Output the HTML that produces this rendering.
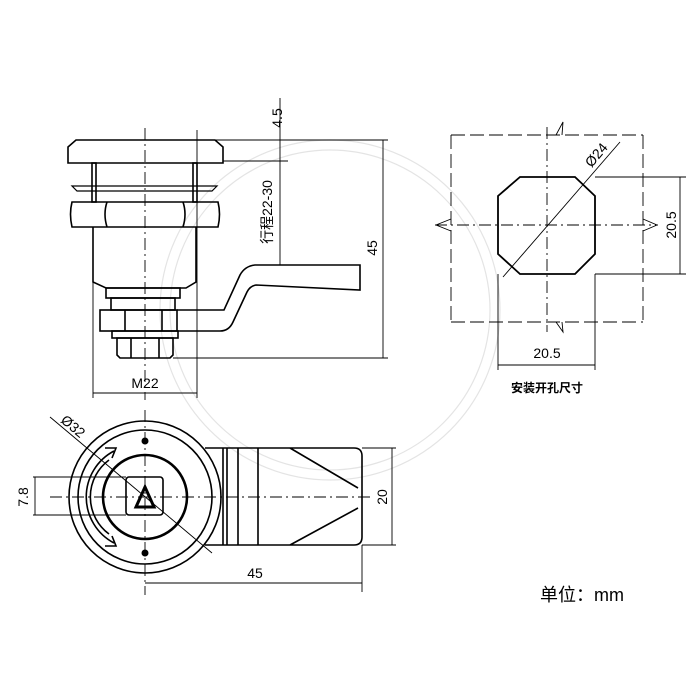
<!DOCTYPE html>
<html><head><meta charset="utf-8"><style>html,body{margin:0;padding:0;background:#fff}svg{display:block}</style></head><body>
<svg width="700" height="700" viewBox="0 0 700 700" xmlns="http://www.w3.org/2000/svg" font-family="Liberation Sans, Noto Sans CJK SC, sans-serif">
<g fill="none" stroke="#e4e4e4" stroke-width="1.2">
<circle cx="330" cy="310" r="170"/><circle cx="330" cy="310" r="160"/>
</g>
<g fill="none" stroke="#000" stroke-width="1.6">
<path d="M76 140 H215 L223 147 V163 H68 V147 Z"/>
<rect x="92" y="163" width="4" height="39"/><rect x="193" y="163" width="4" height="39"/>
<path d="M72 186 H217 L212 191 H77 Z" stroke-width="1.2"/>
<path d="M72 202 H218 Q221 214 218 227 H72 Q69 214 72 202 Z"/>
<path d="M107 202 Q103 214 107 227 M183 202 Q187 214 183 227"/>
<path d="M93 227 V282 L106 288 H186 L196 282 V227"/>
<rect x="106" y="288" width="74" height="10"/>
<rect x="111" y="298" width="64" height="12"/>
<rect x="100" y="310" width="77" height="21"/>
<path d="M125 310 V331 M162 310 V331"/>
<rect x="112" y="331" width="66" height="7"/>
<path d="M117 338 H173 V355 L170 358 H120 L117 355 Z M131 338 V358 M159 338 V358"/>
<path d="M177 310 H224 L240 275 Q245 266 255 265 H360 V290 L256 285 Q250 286 247 292 L233 322 Q229 331 220 331 H177"/>
</g>
<g fill="none" stroke="#000" stroke-width="0.9">
<path d="M145 128 V400" stroke-dasharray="12 4 2 4"/>
<path d="M197 130 V398 M93 282 V398 M280 98 V265 M215 140 H388 M223 161 H288 M173 358 H388 M383 140 V358 M93 393 H197"/>
</g>
<g font-size="14" fill="#000">
<text x="145" y="388" text-anchor="middle">M22</text>
<text transform="translate(282,118) rotate(-90)" text-anchor="middle">4.5</text>
<text transform="translate(272,212) rotate(-90)" text-anchor="middle">行程22-30</text>
<text transform="translate(377,248) rotate(-90)" text-anchor="middle">45</text>
</g>
<g fill="none" stroke="#000" stroke-width="1.6">
<circle cx="145" cy="497" r="76"/>
<circle cx="145" cy="497" r="67"/>
<circle cx="145" cy="497" r="42" stroke-width="2.6"/>
<rect x="126" y="477" width="37" height="38" rx="3"/>
<path d="M145 487 L136 507 H154 Z" stroke-width="3"/>
<path d="M114 451 A52 52 0 0 0 114 543 M109 460 A46 46 0 0 0 109 534 M105 448 L116 448 L112 458 M105 546 L116 546 L112 536"/>
<path d="M205 448 H354 Q362 448 362 456 V537 Q362 545 354 545 H205 M223 448 V545 M227 448 V545 M238 448 V545 M258 448 V545 M290 448 L358 488 M358 508 L290 545"/>
</g>
<circle cx="145" cy="441" r="3.5" fill="#000"/><circle cx="145" cy="553" r="3.5" fill="#000"/>
<g fill="none" stroke="#000" stroke-width="0.9">
<path d="M145 410 V595 M50 497 H372" stroke-dasharray="12 4 2 4"/>
<path d="M33 477 H126 M33 515 H126 M35 477 V515 M50 417 L212 553 M362 545 V592 M145 583 H362 M362 448 H396 M362 545 H396 M392 448 V545"/>
</g>
<g font-size="14" fill="#000">
<text transform="translate(28,497) rotate(-90)" text-anchor="middle">7.8</text>
<text transform="translate(387,497) rotate(-90)" text-anchor="middle">20</text>
<text x="255" y="578" text-anchor="middle">45</text>
<text transform="translate(70,430) rotate(40)" text-anchor="middle">Ø32</text>
</g>
<g fill="none" stroke="#000" stroke-width="0.9">
<path d="M451 135 H643 M451 322 H643 M451 135 V322 M643 135 V322" stroke-dasharray="14 5"/>
<path d="M556 135 L563 122 L562 135 M556 322 L563 332 L562 322 M451 219 L436 225 L451 231 M643 219 L657 225 L643 231"/>
<path d="M547 127 V332 M435 225 H658" stroke-dasharray="12 4 2 4"/>
<path d="M503 277 L620 142 M595 177 H686 M595 274 H686 M680 177 V274 M498 274 V370 M595 274 V370 M498 365 H595"/>
</g>
<path d="M520 177 H575 L595 196 V254 L575 274 H520 L498 254 V196 Z" fill="none" stroke="#000" stroke-width="1.8"/>
<g font-size="14" fill="#000">
<text transform="translate(600,158) rotate(-50)" text-anchor="middle">Ø24</text>
<text transform="translate(676,225) rotate(-90)" text-anchor="middle">20.5</text>
<text x="547" y="358" text-anchor="middle">20.5</text>
<text x="547" y="392" text-anchor="middle" font-size="12" font-weight="bold">安装开孔尺寸</text>
<text x="540" y="601" font-size="18">单位：mm</text>
</g>
</svg>
</body></html>
